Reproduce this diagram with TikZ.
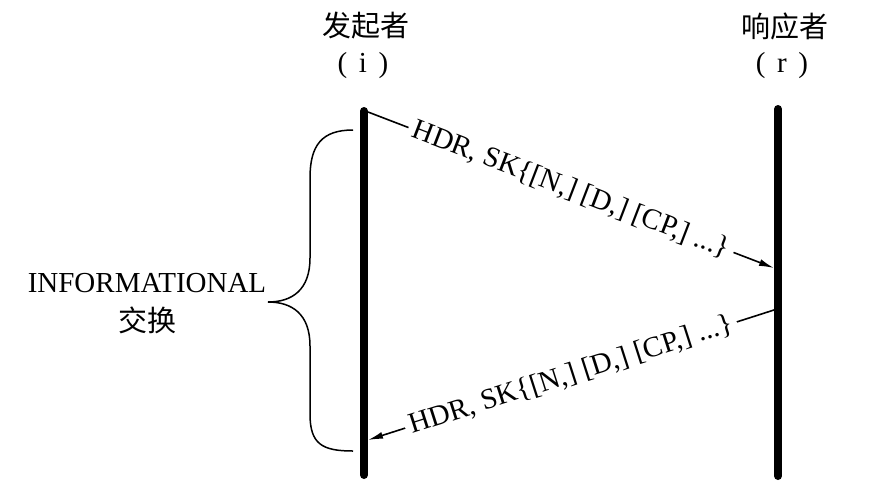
\documentclass[tikz,border=0pt]{standalone}
\usepackage{fontspec}
\setmainfont{Liberation Serif}
\newfontfamily\cjk{Noto Sans CJK SC}
\usetikzlibrary{arrows.meta}

\begin{document}
\begin{tikzpicture}[x=1pt,y=-1pt,
   lifeline/.style={line width=8pt,line cap=round},
   msg/.style={line width=1.6pt,-{Latex[length=15pt,width=7pt]}},
   msglbl/.style={font=\fontsize{29}{32}\selectfont,sloped,fill=white,inner xsep=5pt,inner ysep=1pt},
   txt/.style={font=\fontsize{29}{32}\selectfont,inner sep=0pt},
   cjktxt/.style={font=\cjk\fontsize{29}{32}\selectfont,inner sep=0pt},
   bracket/.style={line width=1.5pt}]
   \useasboundingbox (0,0) rectangle (894,498);
   % lifelines
   \coordinate (iTop) at (364,111);
   \coordinate (iBot) at (364,475);
   \coordinate (rTop) at (778,109);
   \coordinate (rBot) at (778,476);
   \draw[lifeline] (iTop) -- (iBot);
   \draw[lifeline] (rTop) -- (rBot);
   % headers
   \node[cjktxt] (iName) at (366,26) {发起者};
   \node[txt] (iTag) at (363,66) {(\hspace{0.4em}i\hspace{0.4em})};
   \node[cjktxt] (rName) at (785,26) {响应者};
   \node[txt] (rTag) at (782,66) {(\hspace{0.4em}r\hspace{0.4em})};
   % messages
   \coordinate (m1s) at (368,112);
   \coordinate (m1e) at (774,268);
   \coordinate (m2s) at (774,310);
   \coordinate (m2e) at (368,440);
   \draw[msg] (m1s) -- node[msglbl] (m1) {HDR, SK\{[N,] [D,] [CP,] ...\}} (m1e);
   \draw[msg] (m2s) -- node[msglbl] (m2) {HDR, SK\{[N,] [D,] [CP,] ...\}} (m2e);
   % exchange brace
   \coordinate (bTop) at (353,130);
   \coordinate (bTip) at (268,302);
   \coordinate (bBot) at (353,451);
   \draw[bracket] (bTop) .. controls (322,130) and (310,145) .. (310,178)
      -- (310,258) .. controls (310,290) and (292,302) .. (bTip)
      .. controls (292,302) and (310,314) .. (310,346)
      -- (310,414) .. controls (310,444) and (322,451) .. (bBot);
   \node[txt,anchor=base] (exName) at (147,292) {INFORMATIONAL};
   \node[cjktxt] (exCn) at (147,320) {交换};
\end{tikzpicture}
\end{document}
